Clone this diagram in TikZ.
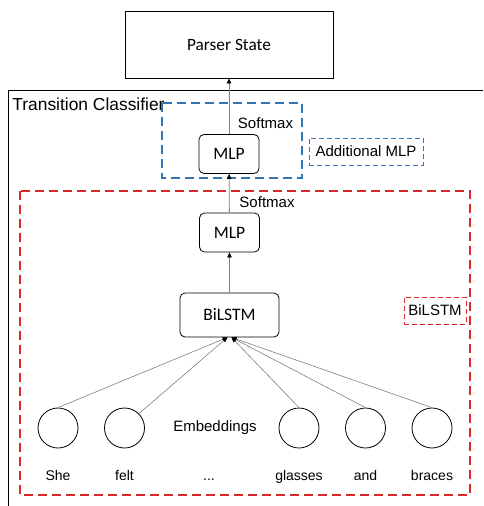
\documentclass[tikz,border=0pt]{standalone}
\usepackage{fontspec}
\setmainfont{Liberation Sans}
\newfontfamily\calibri{Carlito}
\usetikzlibrary{arrows.meta,positioning}
\definecolor{mlpblue}{RGB}{46,117,182}
\definecolor{lstmred}{RGB}{218,40,40}

\begin{document}
\begin{tikzpicture}[x=1pt,y=-1pt,line width=0.8pt,
	block/.style={draw,rounded corners=5pt,font=\calibri\fontsize{17.5}{20}\selectfont,minimum width=60pt,minimum height=39pt},
	emb/.style={draw,circle,minimum size=40pt,inner sep=0pt},
	word/.style={font=\fontsize{14}{16}\selectfont,text height=10pt,text depth=3pt},
	lbl/.style={font=\fontsize{15}{18}\selectfont},
	tagbox/.style={lbl,draw,line width=1pt,dash pattern=on 5pt off 3pt,minimum height=27pt,inner sep=1pt},
	bigbox/.style={line width=1.5pt,dash pattern=on 9pt off 5pt},
	flow/.style={draw=gray,-{Triangle[length=5pt,width=4.5pt,color=black]}},
	feed/.style={draw=gray,line width=0.6pt,-{Triangle[length=5pt,width=4pt,color=black]}},
	node distance=66.5pt,on grid]
	\useasboundingbox (0,0) rectangle (483,506);
	% outer classifier frame
	\draw (483,90) -| (8,506);
	\node[anchor=west,inner sep=2pt,font=\fontsize{17.4}{20}\selectfont] (tc) at (10,104) {Transition Classifier};
	\node[draw,minimum width=208pt,minimum height=67pt,font=\calibri\fontsize{17.3}{20}\selectfont] (ps) at (229,44.5) {Parser State};
	% dashed groups
	\draw[bigbox,mlpblue] (162,103) rectangle (302,178);
	\draw[bigbox,lstmred] (20,191) rectangle (470,495);
	\node[tagbox,mlpblue,text=black,minimum width=114pt] (addtag) at (366,151.5) {Additional MLP};
	\node[tagbox,lstmred,text=black,minimum width=62pt] (lstmtag) at (435,310.5) {BiLSTM};
	% network column
	\node[block] (mlp2) at (229,154) {MLP};
	\node[block] (mlp1) at (229.5,232.5) {MLP};
	\node[block,minimum width=99pt,minimum height=44pt] (bilstm) at (229.5,315) {BiLSTM};
	\node[lbl] (sm2) at (265.5,123) {Softmax};
	\node[lbl] (sm1) at (267,202) {Softmax};
	% embeddings
	\node[emb] (e1) at (58,428) {};
	\node[emb,right of=e1] (e2) {};
	\node[emb] (e3) at (299,428) {};
	\node[emb,right of=e3] (e4) {};
	\node[emb,right of=e4] (e5) {};
	\node[lbl] (embl) at (215,428) {Embeddings};
	\node[word,below=49pt of e1] (w1) {She};
	\node[word,below=49pt of e2] (w2) {felt};
	\node[word] (w3) at (209,477) {...};
	\node[word,below=49pt of e3] (w4) {glasses};
	\node[word,below=49pt of e4] (w5) {and};
	\node[word,below=49pt of e5] (w6) {braces};
	\path (mlp2) edge[flow] (ps)
		 (mlp1) edge[flow] (mlp2)
		 (bilstm) edge[flow] (mlp1)
		 (e1.north) edge[feed] ([xshift=-2pt]bilstm.south)
		 (e2.north east) edge[feed] ([xshift=-2pt]bilstm.south)
		 (e3.north) edge[feed] ([xshift=2pt]bilstm.south)
		 (e4.north) edge[feed] ([xshift=2pt]bilstm.south)
		 (e5.north) edge[feed] ([xshift=2pt]bilstm.south);
\end{tikzpicture}
\end{document}
